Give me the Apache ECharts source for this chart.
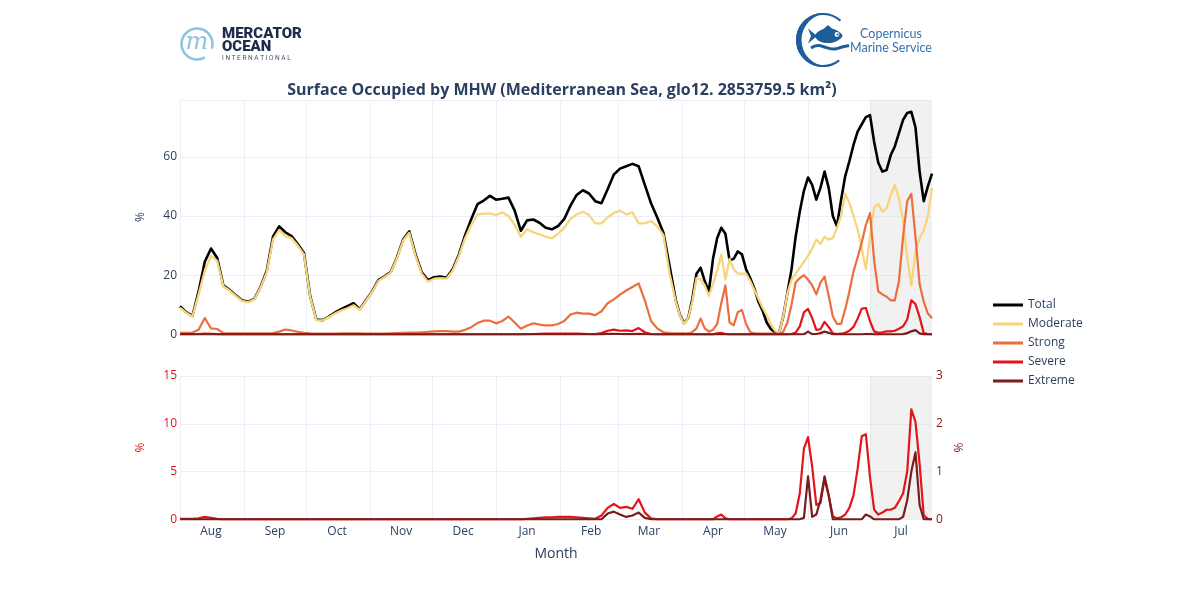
<!DOCTYPE html>
<html>
<head>
<meta charset="utf-8">
<title>Surface Occupied by MHW</title>
<script src="https://cdn.jsdelivr.net/npm/echarts@6.0.0/dist/echarts.min.js"></script>
<style>
	html, body { margin: 0; padding: 0; background: #fff; }
	#chart { width: 1200px; height: 600px; }
</style>
</head>
<body>
<div id="chart"></div>
<script>
	//横轴：2024-08-01 起 365 天
	var startYear = 2024, startMonth = 7, dayCount = 365;
	var monthNames = ['Jan', 'Feb', 'Mar', 'Apr', 'May', 'Jun', 'Jul', 'Aug', 'Sep', 'Oct', 'Nov', 'Dec'];
	var legendNames = ['Total', 'Moderate', 'Strong', 'Severe', 'Extreme'];

	//灰色区域（7 月）
	var shadeFrom = '2025-07-01', shadeTo = '2025-07-31';

	//采样日（距 8 月 1 日的天数）
	var days = [
		0, 3, 6, 9, 12, 15, 18, 21, 24, 27, 30, 33, 36, 39, 42, 45, 48, 51, 54, 57,
		60, 63, 66, 69, 72, 75, 78, 81, 84, 87, 90, 93, 96, 99, 102, 105, 108, 111, 114, 117,
		120, 123, 126, 129, 132, 135, 138, 141, 144, 147, 150, 153, 156, 159, 162, 165, 168, 171, 174, 177,
		180, 183, 186, 189, 192, 195, 198, 201, 204, 207, 210, 213, 216, 219, 222, 225, 228, 231, 234, 237,
		240, 242, 244, 246, 248, 250, 252, 254, 256, 258, 260, 262, 264, 266, 268, 270, 272, 274, 276, 278,
		280, 282, 284, 286, 288, 290, 292, 294, 296, 298, 300, 302, 304, 306, 308, 310, 312, 314, 316, 318,
		320, 322, 324, 326, 328, 330, 332, 334, 336, 338, 340, 342, 344, 346, 348, 350, 352, 354, 356, 358,
		360, 362, 364
	];

	//各类别占比（%）
	var total = [
		9.5, 7.5, 6.2, 14.5, 24.5, 29.0, 25.8, 16.5, 15.0, 13.2, 11.5, 11.0, 12.0, 16.0, 21.5, 33.0, 36.5, 34.5, 33.2, 30.5,
		27.5, 13.0, 5.0, 4.8, 6.0, 7.3, 8.5, 9.5, 10.5, 8.5, 11.5, 14.5, 18.3, 19.6, 21.0, 26.0, 32.0, 34.8, 27.0, 21.0,
		18.3, 19.3, 19.5, 19.1, 22.0, 27.0, 33.5, 39.0, 44.0, 45.2, 46.8, 45.5, 45.8, 46.2, 41.8, 35.0, 38.5, 38.8, 37.7, 36.0,
		35.5, 36.6, 39.0, 43.5, 47.1, 48.7, 47.6, 45.0, 44.3, 49.0, 54.0, 56.0, 56.8, 57.6, 56.8, 50.5, 44.3, 39.5, 34.3, 23.0,
		11.5, 6.5, 3.8, 5.5, 12.0, 20.5, 22.5, 18.0, 14.5, 25.5, 32.5, 36.0, 34.0, 25.0, 25.5, 28.0, 27.0, 22.0, 19.0, 15.5,
		11.0, 8.0, 4.0, 1.8, 0.7, 0.5, 6.0, 14.0, 22.0, 33.0, 41.5, 48.5, 53.0, 50.5, 45.5, 49.5, 55.0, 49.5, 40.0, 36.5,
		45.5, 53.5, 58.5, 64.0, 68.5, 71.0, 73.4, 74.1, 65.0, 58.0, 55.0, 55.5, 60.5, 63.5, 68.0, 72.5, 74.8, 75.2, 70.0, 55.0,
		45.0, 50.0, 54.3
	];
	var moderate = [
		9.0, 7.3, 6.0, 13.5, 21.5, 26.5, 24.8, 16.2, 14.8, 13.0, 11.3, 10.8, 11.8, 15.8, 21.0, 32.0, 35.2, 33.2, 32.5, 30.0,
		27.0, 12.8, 4.8, 4.7, 5.8, 7.0, 8.0, 8.8, 9.8, 8.3, 11.3, 14.3, 18.0, 19.4, 20.8, 25.7, 31.7, 34.3, 26.5, 20.5,
		17.8, 18.8, 19.0, 18.8, 21.5, 26.5, 32.5, 37.0, 40.5, 40.8, 40.9, 40.3, 41.2, 40.0, 37.0, 33.0, 35.5, 34.5, 33.8, 33.0,
		32.4, 34.0, 36.0, 39.0, 40.5, 41.4, 40.3, 37.5, 37.5, 39.5, 41.0, 41.8, 40.5, 41.2, 37.5, 37.5, 38.3, 36.5, 33.5, 20.5,
		11.0, 6.3, 3.5, 5.5, 11.0, 19.0, 18.5, 16.5, 13.0, 17.0, 21.5, 27.0, 18.5, 25.5, 22.0, 20.5, 20.5, 20.5, 18.0, 15.0,
		12.0, 9.0, 6.5, 3.5, 1.2, 0.4, 6.0, 13.8, 18.5, 20.5, 22.5, 24.5, 26.5, 29.0, 32.0, 30.5, 33.0, 32.0, 32.5, 36.0,
		40.0, 47.5, 44.5, 40.0, 35.5, 29.0, 22.0, 33.0, 43.0, 44.0, 41.5, 42.5, 47.0, 50.5, 46.0, 38.5, 26.0, 16.5, 28.0, 32.5,
		35.0, 40.0, 49.5
	];
	var strong = [
		0.5, 0.5, 0.6, 1.5, 5.5, 2.0, 1.8, 0.4, 0.3, 0.3, 0.3, 0.3, 0.3, 0.3, 0.3, 0.4, 0.9, 1.6, 1.3, 0.8,
		0.5, 0.3, 0.2, 0.2, 0.2, 0.2, 0.3, 0.3, 0.3, 0.3, 0.2, 0.2, 0.2, 0.2, 0.3, 0.4, 0.5, 0.6, 0.6, 0.7,
		0.8, 1.0, 1.1, 1.1, 0.9, 0.9, 1.5, 2.4, 3.8, 4.6, 4.6, 3.7, 4.5, 6.0, 4.0, 1.9, 3.0, 3.7, 3.3, 3.0,
		3.0, 3.5, 4.5, 6.7, 7.3, 7.0, 7.0, 6.5, 7.8, 10.5, 11.8, 13.4, 14.8, 16.0, 17.2, 11.5, 4.5, 2.0, 0.7, 0.4,
		0.3, 0.3, 0.3, 0.3, 0.8, 2.0, 5.3, 2.0, 0.9, 1.5, 3.5, 10.5, 16.5, 4.0, 3.0, 7.5, 8.2, 3.5, 0.8, 0.3,
		0.2, 0.2, 0.2, 0.2, 0.2, 0.2, 0.8, 4.0, 10.0, 17.5, 19.0, 20.0, 18.5, 16.5, 13.5, 17.5, 19.5, 13.0, 6.0, 3.5,
		3.5, 8.5, 14.5, 21.2, 26.0, 31.0, 37.0, 41.0, 25.0, 14.5, 13.5, 12.7, 11.5, 11.5, 18.0, 33.0, 45.0, 47.5, 33.0, 17.0,
		11.0, 7.0, 5.4
	];
	var severe = [
		0.05, 0.05, 0.05, 0.1, 0.25, 0.15, 0.05, 0, 0, 0, 0, 0, 0, 0, 0, 0, 0, 0, 0, 0,
		0, 0, 0, 0, 0, 0, 0, 0, 0, 0, 0, 0, 0, 0, 0, 0, 0, 0, 0, 0,
		0, 0, 0, 0, 0, 0, 0, 0, 0, 0, 0, 0, 0, 0, 0, 0, 0.05, 0.1, 0.15, 0.2,
		0.2, 0.25, 0.25, 0.25, 0.2, 0.15, 0.1, 0.05, 0.4, 1.2, 1.6, 1.2, 1.3, 1.1, 2.1, 0.7, 0.1, 0, 0, 0,
		0, 0, 0, 0, 0, 0, 0, 0, 0, 0, 0.3, 0.5, 0.1, 0, 0, 0, 0, 0, 0, 0,
		0, 0, 0, 0, 0, 0, 0, 0, 0.1, 0.6, 2.7, 7.4, 8.6, 5.5, 1.5, 1.7, 4.2, 2.5, 0.3, 0.1,
		0.2, 0.5, 1.2, 2.5, 5.3, 8.7, 8.9, 4.4, 1.0, 0.5, 0.7, 1.0, 1.0, 1.2, 1.9, 2.7, 5.0, 11.5, 10.2, 5.8,
		0.4, 0.05, 0
	];
	var extreme = [
		0, 0, 0, 0, 0, 0, 0, 0, 0, 0, 0, 0, 0, 0, 0, 0, 0, 0, 0, 0,
		0, 0, 0, 0, 0, 0, 0, 0, 0, 0, 0, 0, 0, 0, 0, 0, 0, 0, 0, 0,
		0, 0, 0, 0, 0, 0, 0, 0, 0, 0, 0, 0, 0, 0, 0, 0, 0, 0, 0, 0,
		0, 0, 0, 0, 0, 0, 0, 0, 0, 0.12, 0.16, 0.1, 0.05, 0.08, 0.14, 0.03, 0, 0, 0, 0,
		0, 0, 0, 0, 0, 0, 0, 0, 0, 0, 0, 0, 0, 0, 0, 0, 0, 0, 0, 0,
		0, 0, 0, 0, 0, 0, 0, 0, 0, 0, 0, 0.03, 0.9, 0.05, 0.1, 0.4, 0.9, 0.5, 0, 0,
		0, 0, 0, 0, 0, 0, 0.1, 0.06, 0, 0, 0, 0, 0, 0, 0, 0.05, 0.4, 1.0, 1.4, 0.3,
		0, 0, 0
	];

	var colors = {
		Total: '#000000',
		Moderate: '#f6d67c',
		Strong: '#ec6e3e',
		Severe: '#e3141b',
		Extreme: '#7a1c1c'
	};
	var textColor = '#2a3f5f', gridColor = '#ebf0f8';

	//类目：每天一个日期字符串
	var dates = [];
	for (var i = 0; i < dayCount; i++) {
		dates.push(new Date(Date.UTC(startYear, startMonth, 1 + i)).toISOString().slice(0, 10));
	}

	function pairs(values) {
		return days.map(function (d, i) {
			return [d, values[i]];
		});
	}

	function isMonthStart(index, value) {
		return value.slice(8) === '01';
	}

	function isMidMonth(index, value) {
		return value.slice(8) === '16';
	}

	function lineSeries(name, values, xIdx, yIdx, width) {
		return {
			name: name,
			type: 'line',
			xAxisIndex: xIdx,
			yAxisIndex: yIdx,
			data: pairs(values),
			showSymbol: false,
			symbol: 'none',
			animation: false,
			color: colors[name],
			lineStyle: { color: colors[name], width: width, join: 'round' }
		};
	}

	var shade = {
		silent: true,
		itemStyle: { color: 'rgba(211,211,211,0.32)' },
		data: [[{ xAxis: shadeFrom }, { xAxis: shadeTo }]]
	};

	function xAxis(gridIndex, showLabel) {
		return {
			type: 'category',
			gridIndex: gridIndex,
			data: dates,
			boundaryGap: false,
			axisLine: { show: false },
			axisTick: { show: false },
			axisLabel: {
				show: showLabel,
				interval: isMidMonth,
				color: textColor,
				fontSize: 12,
				margin: 6,
				formatter: function (v) {
					return monthNames[+v.slice(5, 7) - 1];
				}
			},
			splitLine: { show: true, interval: isMonthStart, lineStyle: { color: gridColor, width: 1 } },
			name: showLabel ? 'Month' : '',
			nameLocation: 'middle',
			nameGap: 28,
			nameTextStyle: { color: textColor, fontSize: 14 }
		};
	}

	var fishBlue = '#1f5c9a';

	var option = {
		animation: false,
		backgroundColor: '#ffffff',
		textStyle: { fontFamily: 'Open Sans' },
		title: {
			text: 'Surface Occupied by MHW (Mediterranean Sea, glo12. 2853759.5 km²)',
			left: 557,
			top: 77,
			textAlign: 'center',
			textStyle: { color: textColor, fontSize: 16, fontWeight: 'bold', fontFamily: 'Open Sans' }
		},
		legend: {
			orient: 'vertical',
			left: 988,
			top: 293,
			icon: 'rect',
			itemWidth: 30,
			itemHeight: 3,
			itemGap: 5,
			data: legendNames,
			textStyle: { color: textColor, fontSize: 12, lineHeight: 14 }
		},
		grid: [
			{ left: 180, top: 100, width: 752, height: 234.3, outerBoundsMode: 'none' },
			{ left: 180, top: 376, width: 752, height: 143.3, outerBoundsMode: 'none' }
		],
		xAxis: [xAxis(0, false), xAxis(1, true)],
		yAxis: [
			{
				type: 'value', gridIndex: 0, min: 0, max: 79.2, interval: 20,
				axisLine: { show: false }, axisTick: { show: false },
				axisLabel: {
					color: textColor, fontSize: 12, margin: 3,
					formatter: function (v) { return v % 20 === 0 ? String(v) : ''; }
				},
				splitLine: { lineStyle: { color: gridColor, width: 1 } },
				name: '%', nameLocation: 'middle', nameGap: 33,
				nameTextStyle: { color: textColor, fontSize: 12 }
			},
			{
				type: 'value', gridIndex: 1, min: 0, max: 15, interval: 5,
				axisLine: { show: false }, axisTick: { show: false },
				axisLabel: { color: colors.Severe, fontSize: 12, margin: 3 },
				splitLine: { lineStyle: { color: gridColor, width: 1 } },
				name: '%', nameLocation: 'middle', nameGap: 33,
				nameTextStyle: { color: colors.Severe, fontSize: 12 }
			},
			{
				type: 'value', gridIndex: 1, position: 'right', min: 0, max: 3, interval: 1,
				axisLine: { show: false }, axisTick: { show: false },
				axisLabel: { color: colors.Extreme, fontSize: 12, margin: 4 },
				splitLine: { show: false },
				name: '%', nameLocation: 'middle', nameGap: 22,
				nameTextStyle: { color: colors.Extreme, fontSize: 12 }
			}
		],
		series: [
			Object.assign(lineSeries('Total', total, 0, 0, 2.6), { markArea: shade }),
			lineSeries('Moderate', moderate, 0, 0, 2.3),
			lineSeries('Strong', strong, 0, 0, 2.2),
			lineSeries('Severe', severe, 0, 0, 2.2),
			lineSeries('Extreme', extreme, 0, 0, 2.2),
			Object.assign(lineSeries('Severe', severe, 1, 1, 2.2), { markArea: shade }),
			lineSeries('Extreme', extreme, 1, 2, 2.2)
		],
		graphic: {
			elements: [
				//Mercator Ocean 标志
				{ type: 'arc', shape: { cx: 197, cy: 44, r: 15.5, startAngle: 1.05, endAngle: Math.PI * 2 + 0.3 }, style: { stroke: '#8ec3e0', lineWidth: 2.5, fill: null } },
				{ type: 'text', x: 197, y: 43, style: { text: 'm', font: 'italic 24px "DejaVu Serif"', fill: '#8ec3e0', align: 'center', verticalAlign: 'middle' } },
				{ type: 'text', x: 222, y: 34, style: { text: 'MERCATOR', font: '900 15px Roboto', fill: '#1f2a4d', verticalAlign: 'middle' } },
				{ type: 'text', x: 222, y: 47, style: { text: 'OCEAN', font: '900 15px Roboto', fill: '#1f2a4d', verticalAlign: 'middle' } },
				{ type: 'text', x: 222, y: 58.5, style: { text: 'I N T E R N A T I O N A L', font: '6.5px Roboto', fill: '#4a5168', verticalAlign: 'middle' } },
				//Copernicus Marine Service 标志
				{ type: 'circle', shape: { cx: 823, cy: 40, r: 27 }, style: { fill: fishBlue } },
				{ type: 'circle', shape: { cx: 828, cy: 40, r: 26.5 }, style: { fill: '#ffffff' } },
				{ type: 'arc', shape: { cx: 823, cy: 40, r: 26, startAngle: 0.9, endAngle: 5.45 }, style: { stroke: fishBlue, lineWidth: 2, fill: null } },
				{ type: 'polygon', shape: { points: [[808, 28.5], [817, 36], [808, 43.5], [811, 36]] }, style: { fill: fishBlue } },
				{ type: 'polygon', shape: { points: [[815, 36], [820, 30.5], [828, 28.5], [836, 30], [842, 34.5], [842, 37], [836, 41.5], [828, 43], [820, 41.5]], smooth: 0.4 }, style: { fill: fishBlue } },
				{ type: 'polygon', shape: { points: [[823, 29.5], [828, 25], [833, 29.5]] }, style: { fill: fishBlue } },
				{ type: 'circle', shape: { cx: 837, cy: 34.5, r: 2.4 }, style: { fill: '#ffffff' } },
				{ type: 'circle', shape: { cx: 837.6, cy: 34.5, r: 1.1 }, style: { fill: fishBlue } },
				{ type: 'polyline', shape: { points: [[811, 48], [818, 45.5], [826, 47.5], [834, 49], [842, 47], [849, 45.5]], smooth: 0.5 }, style: { stroke: fishBlue, lineWidth: 3, fill: null } },
				{ type: 'text', x: 891, y: 34, style: { text: 'Copernicus', font: '12.5px Lato', fill: '#3570ad', align: 'center', verticalAlign: 'middle' } },
				{ type: 'text', x: 891, y: 48, style: { text: 'Marine Service', font: '12.5px Lato', fill: '#3570ad', align: 'center', verticalAlign: 'middle' } }
			]
		}
	};

	var chart = echarts.init(document.getElementById('chart'), null, { renderer: 'canvas' });
	chart.setOption(option);
</script>
</body>
</html>
